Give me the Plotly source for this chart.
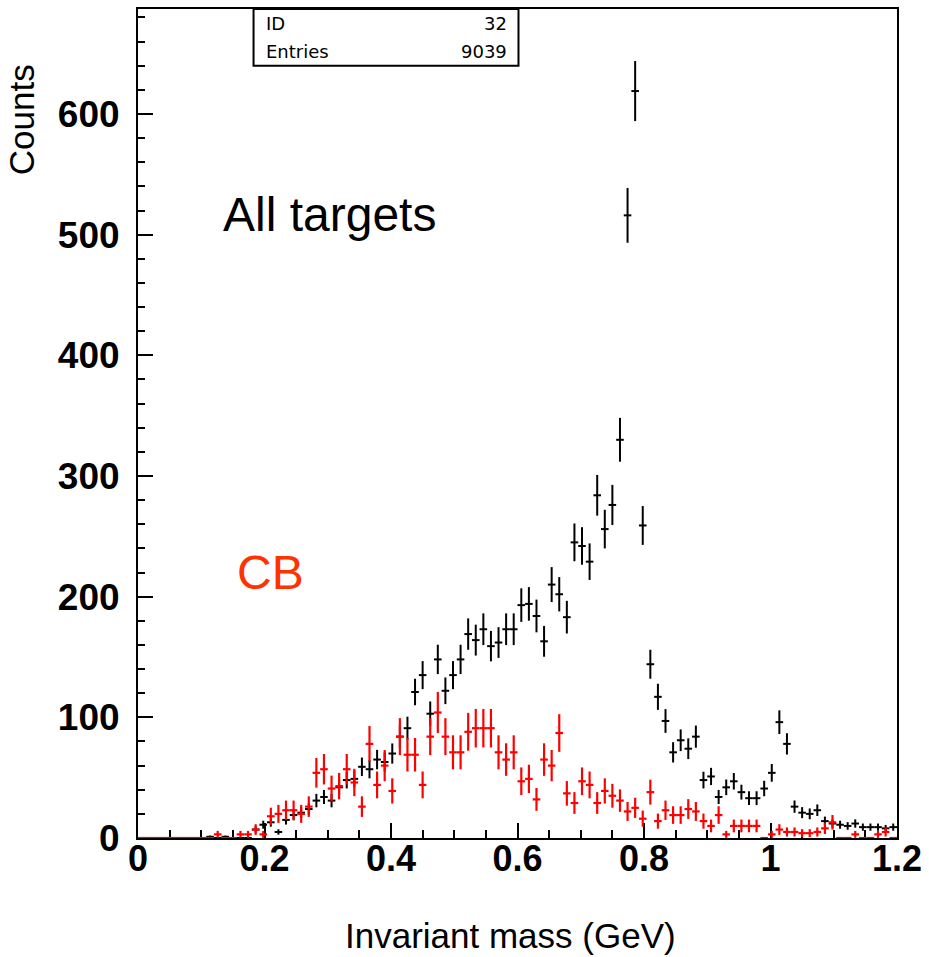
import numpy as np
import plotly.graph_objects as go

# Histogram binning (HBOOK-style: 100 bins from 0 to 1.2 GeV)
N_BINS = 100
X_MIN, X_MAX = 0.0, 1.2

# All targets (black)
all_targets = [
    0, 0, 0, 0, 0, 0, 0, 0, 0, 1,
    0, 1, 0, 0, 0, 7, 11, 13, 5, 15,
    19, 21, 24, 31, 34, 31, 42, 48, 49, 59,
    57, 65, 63, 70, 84, 91, 121, 135, 103, 148,
    122, 135, 148, 169, 164, 173, 159, 162, 173, 173,
    193, 194, 184, 163, 210, 202, 183, 245, 242, 229,
    284, 256, 276, 330, 516, 619, 259, 144, 117, 97,
    71, 81, 74, 84, 48, 51, 34, 42, 47, 38,
    33, 33, 41, 54, 96, 78, 26, 21, 20, 23,
    14, 12, 11, 10, 12, 9, 9, 9, 8, 9,
]

# CB target (red, scaled)
cb = [
    0, 0, 0, 0, 0, 0, 0, 0, 0, 0,
    3, 0, 0, 3, 3, 7, 3, 18, 20, 23,
    23, 20, 26, 54, 57, 41, 43, 57, 46, 26,
    78, 44, 60, 39, 84, 69, 69, 44, 84, 104,
    84, 71, 71, 88, 91, 91, 91, 71, 65, 71,
    47, 49, 32, 65, 60, 87, 37, 29, 47, 44,
    29, 39, 35, 31, 22, 25, 16, 38, 14, 23,
    19, 19, 24, 22, 14, 10, 19, 3, 10, 10,
    10, 10, 0, 3, 7, 5, 5, 4, 4, 5,
    8, 13, 0, 0, 3, 0, 0, 3, 5, 0,
]
CB_SCALE = 2.8  # scale factor applied to CB histogram (enters its Poisson errors)

x_tick_vals = [0, 0.2, 0.4, 0.6, 0.8, 1.0, 1.2]
x_tick_text = ["0", "0.2", "0.4", "0.6", "0.8", "1", "1.2"]
y_tick_vals = [0, 100, 200, 300, 400, 500, 600]

stats_labels = ["ID", "Entries"]
stats_values = ["32", "9039"]

edges = np.linspace(X_MIN, X_MAX, N_BINS + 1)
centers = 0.5 * (edges[:-1] + edges[1:])
half_w = 0.5 * (X_MAX - X_MIN) / N_BINS

all_arr = np.array(all_targets, dtype=float)
cb_arr = np.array(cb, dtype=float)
err_all = np.sqrt(all_arr)
err_cb = np.sqrt(CB_SCALE * cb_arr)

fig = go.Figure()
fig.add_trace(go.Scatter(
    x=centers, y=all_arr, mode="markers",
    marker=dict(size=1, color="black", opacity=0),
    error_x=dict(type="constant", value=half_w, width=0, thickness=2, color="black"),
    error_y=dict(type="data", array=err_all, width=0, thickness=2, color="black"),
    cliponaxis=False, showlegend=False, hoverinfo="skip",
))
fig.add_trace(go.Scatter(
    x=centers, y=cb_arr, mode="markers",
    marker=dict(size=1, color="red", opacity=0),
    error_x=dict(type="constant", value=half_w, width=0, thickness=2.2, color="#ff0000"),
    error_y=dict(type="data", array=err_cb, width=0, thickness=2.2, color="#ff0000"),
    cliponaxis=False, showlegend=False, hoverinfo="skip",
))

FONT = "Liberation Sans, Arial, Helvetica, sans-serif"

fig.update_layout(
    width=929, height=957,
    margin=dict(l=138, r=29, t=7, b=119),
    paper_bgcolor="white", plot_bgcolor="white",
    xaxis=dict(
        range=[X_MIN, X_MAX], showgrid=False, zeroline=False,
        showline=True, linecolor="black", linewidth=2, mirror=True,
        ticks="inside", ticklen=15, tickwidth=2, tickcolor="black",
        tickvals=x_tick_vals, ticktext=x_tick_text,
        minor=dict(ticks="inside", dtick=0.05, tick0=0, ticklen=8, tickwidth=1.5, tickcolor="black"),
        tickfont=dict(family=FONT, size=36, color="black", weight="bold"),
        ticklabelstandoff=-12,
        layer="below traces",
    ),
    yaxis=dict(
        range=[0, 687], showgrid=False, zeroline=False,
        showline=True, linecolor="black", linewidth=2, mirror=True,
        ticks="inside", ticklen=15, tickwidth=2, tickcolor="black",
        tickvals=y_tick_vals,
        minor=dict(ticks="inside", dtick=20, tick0=0, ticklen=7, tickwidth=1.5, tickcolor="black"),
        tickfont=dict(family=FONT, size=37, color="black", weight="bold"),
        ticklabelstandoff=9,
        layer="below traces",
    ),
)

# Axis titles
fig.add_annotation(text="Invariant mass (GeV)", xref="paper", yref="paper",
                   x=(512 - 138) / 762, y=-(936 - 838) / 831, xanchor="center", yanchor="middle",
                   showarrow=False, font=dict(family=FONT, size=35, color="black"))
fig.add_annotation(text="Counts", xref="paper", yref="paper",
                   x=-(138 - 21) / 762, y=(838 - 118) / 831, xanchor="center", yanchor="middle",
                   textangle=-90, showarrow=False, font=dict(family=FONT, size=35, color="black"))

# In-plot labels
fig.add_annotation(text="All targets", xref="paper", yref="paper",
                   x=(221 - 138) / 762, y=(838 - 213) / 831, xanchor="left", yanchor="middle",
                   showarrow=False, font=dict(family=FONT, size=48, color="black"))
fig.add_annotation(text="CB", xref="paper", yref="paper",
                   x=(235 - 138) / 762, y=(838 - 572) / 831, xanchor="left", yanchor="middle",
                   showarrow=False, font=dict(family=FONT, size=48, color="#ff3300"))

# Stats box
bx0, bx1, by1 = 254, 520, 64
fig.add_shape(type="rect", xref="paper", yref="paper",
              x0=(bx0 - 138) / 762, x1=(bx1 - 138) / 762,
              y0=(838 - by1) / 831, y1=1.0,
              line=dict(color="black", width=2), fillcolor="white", layer="above")
for k, (lab, val) in enumerate(zip(stats_labels, stats_values)):
    ypx = 22 + k * 28
    fig.add_annotation(text=lab, xref="paper", yref="paper",
                       x=(264 - 138) / 762, y=(838 - ypx) / 831, xanchor="left", yanchor="middle",
                       showarrow=False, font=dict(family="DejaVu Sans", size=18, color="black"))
    fig.add_annotation(text=val, xref="paper", yref="paper",
                       x=(510 - 138) / 762, y=(838 - ypx) / 831, xanchor="right", yanchor="middle",
                       showarrow=False, font=dict(family="DejaVu Sans", size=18, color="black"))

fig.write_html("out.html")
